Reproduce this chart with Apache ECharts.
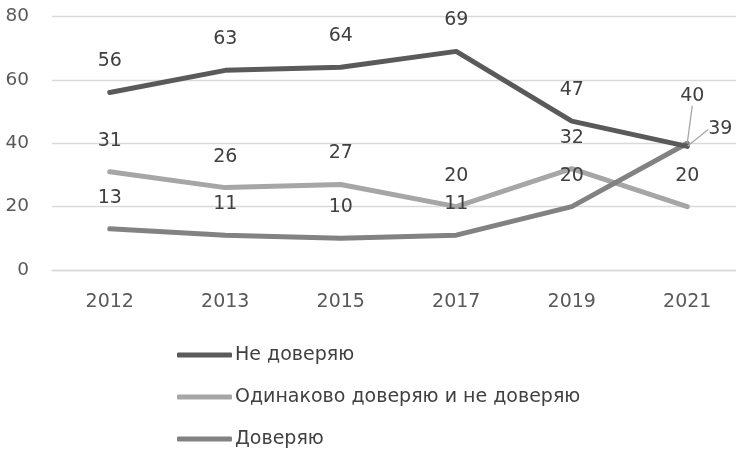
<!DOCTYPE html>
<html>
<head>
<meta charset="utf-8">
<script src="https://cdn.jsdelivr.net/npm/echarts@6/dist/echarts.min.js"></script>
<style>
html,body{margin:0;padding:0;background:#fff;overflow:hidden;width:736px;height:457px;}
#c{width:745px;height:457px;}
</style>
</head>
<body>
<div id="c"></div>
<script>
var categories = ['2012', '2013', '2015', '2017', '2019', '2021'];
var distrust = [56, 63, 64, 69, 47, 39];
var neutral = [31, 26, 27, 20, 32, 20];
var trust = [13, 11, 10, 11, 20, 40];
var seriesNames = ['Не доверяю', 'Одинаково доверяю и не доверяю', 'Доверяю'];
var yTicks = [0, 20, 40, 60, 80];

var FONT = 'DejaVu Sans';
var labelBase = {show: true, position: 'top', distance: 21, color: '#404040', fontSize: 19, fontFamily: FONT};

function mkData(arr, special) {
  return arr.map(function (v, i) {
    if (special && special[i]) { var o = {value: v}; for (var k in special[i]) o[k] = special[i][k]; return o; }
    return v;
  });
}

var chart = echarts.init(document.getElementById('c'));
chart.setOption({
  animation: false,
  color: ['#5a5a5a', '#a6a6a6', '#828282'],
  grid: {left: 52, right: 0, top: 16.5, bottom: 187, containLabel: false},
  legend: {
    orient: 'vertical', left: 177, top: 344, padding: 0, height: 120,
    itemWidth: 55, itemHeight: 5, itemGap: 20, icon: 'roundRect',
    textStyle: {color: '#404040', fontSize: 19, fontFamily: FONT, lineHeight: 22, padding: [0, 0, 0, -2]},
    data: seriesNames
  },
  xAxis: {
    type: 'category', data: categories, boundaryGap: true,
    axisLine: {show: true, lineStyle: {color: '#d9d9d9', width: 1.3}},
    axisTick: {show: false},
    axisLabel: {color: '#595959', fontSize: 19, fontFamily: FONT, margin: 23}
  },
  yAxis: {
    type: 'value', min: yTicks[0], max: yTicks[yTicks.length - 1], interval: 20,
    axisLine: {show: false}, axisTick: {show: false},
    splitLine: {lineStyle: {color: '#d9d9d9', width: 1.3}},
    axisLabel: {color: '#595959', fontSize: 18.5, fontFamily: FONT, margin: 23}
  },
  series: [
    {
      name: seriesNames[0], type: 'line', symbol: 'circle', symbolSize: 1, showSymbol: true, z: 3,
      itemStyle: {color: '#5a5a5a'},
      lineStyle: {width: 5, color: '#5a5a5a', cap: 'round'},
      label: labelBase,
      labelLine: {show: false, lineStyle: {color: '#a6a6a6', width: 1.3}},
      labelLayout: function (p) { if (p.dataIndex === 5) return {dx: 33, dy: 14}; return {}; },
      data: mkData(distrust, {5: {labelLine: {show: true}}})
    },
    {
      name: seriesNames[1], type: 'line', symbol: 'circle', symbolSize: 1, showSymbol: true, z: 2,
      itemStyle: {color: '#a6a6a6'},
      lineStyle: {width: 5, color: '#a6a6a6', cap: 'round'},
      label: labelBase,
      data: neutral
    },
    {
      name: seriesNames[2], type: 'line', symbol: 'circle', symbolSize: 1, showSymbol: true, z: 2,
      itemStyle: {color: '#828282'},
      lineStyle: {width: 5, color: '#828282', cap: 'round'},
      label: labelBase,
      labelLine: {show: false, lineStyle: {color: '#a6a6a6', width: 1.3}},
      labelLayout: function (p) { if (p.dataIndex === 5) return {dx: 5, dy: -16}; return {}; },
      data: mkData(trust, {5: {labelLine: {show: true}}})
    }
  ]
});
</script>
</body>
</html>
